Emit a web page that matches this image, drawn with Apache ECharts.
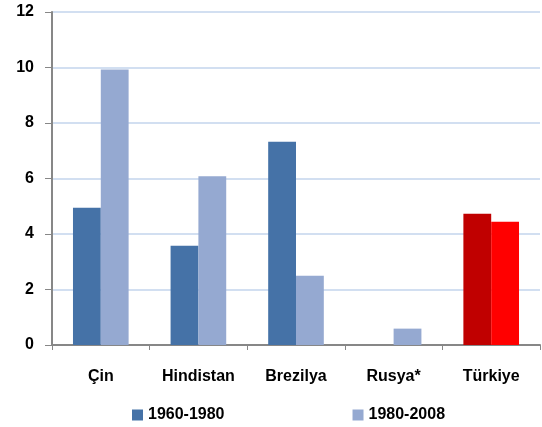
<!DOCTYPE html>
<html><head><meta charset="utf-8">
<script src="https://cdn.jsdelivr.net/npm/echarts@6/dist/echarts.min.js"></script>
<style>html,body{margin:0;padding:0;background:#fff}#c{width:542px;height:427px}</style>
</head><body><div id="c"></div>
<script>
var categories = ['Çin', 'Hindistan', 'Brezilya', 'Rusya*', 'Türkiye'];
var seriesNames = ['1960-1980', '1980-2008'];
var values1960 = [4.95, 3.58, 7.32, null, 4.73];
var values1980 = [9.93, 6.08, 2.5, 0.59, 4.44];
var yTicks = [0, 2, 4, 6, 8, 10, 12];

var FONT = '"Liberation Sans", Arial, sans-serif';
var highlightIndex = 4;
function withHighlight(arr, color) {
  return arr.map(function (v, i) {
    return i === highlightIndex ? { value: v, itemStyle: { color: color } } : v;
  });
}
var chart = echarts.init(document.getElementById('c'), null, { renderer: 'canvas' });
chart.setOption({
  animation: false,
  grid: { left: 52, right: 2, top: 12, bottom: 82, containLabel: false },
  legend: {
    data: seriesNames,
    left: 127, top: 402,
    itemWidth: 11, itemHeight: 11, itemGap: 128,
    icon: 'rect',
    textStyle: { fontFamily: FONT, fontWeight: 'bold', fontSize: 16, color: '#000' }
  },
  xAxis: {
    type: 'category', data: categories,
    axisLine: { lineStyle: { color: '#878787', width: 2 } },
    axisTick: { show: true, length: 5, lineStyle: { color: '#878787', width: 1 } },
    axisLabel: { margin: 24, fontFamily: FONT, fontWeight: 'bold', fontSize: 16, color: '#000' }
  },
  yAxis: {
    type: 'value', min: yTicks[0], max: yTicks[yTicks.length - 1], interval: 2,
    axisLine: { show: true, lineStyle: { color: '#878787', width: 2 } },
    axisTick: { show: true, length: 7, lineStyle: { color: '#878787', width: 1 } },
    axisLabel: { margin: 18, fontFamily: FONT, fontWeight: 'bold', fontSize: 16, color: '#000' },
    splitLine: { lineStyle: { color: '#C3D4EC', width: 1.5 } }
  },
  series: [
    { name: seriesNames[0], type: 'bar', data: withHighlight(values1960, '#C00000'),
      itemStyle: { color: '#4572A7' }, barGap: '0%', barCategoryGap: '43%' },
    { name: seriesNames[1], type: 'bar', data: withHighlight(values1980, '#FF0000'),
      itemStyle: { color: '#95A9D1' }, barGap: '0%', barCategoryGap: '43%' }
  ]
});
</script></body></html>
